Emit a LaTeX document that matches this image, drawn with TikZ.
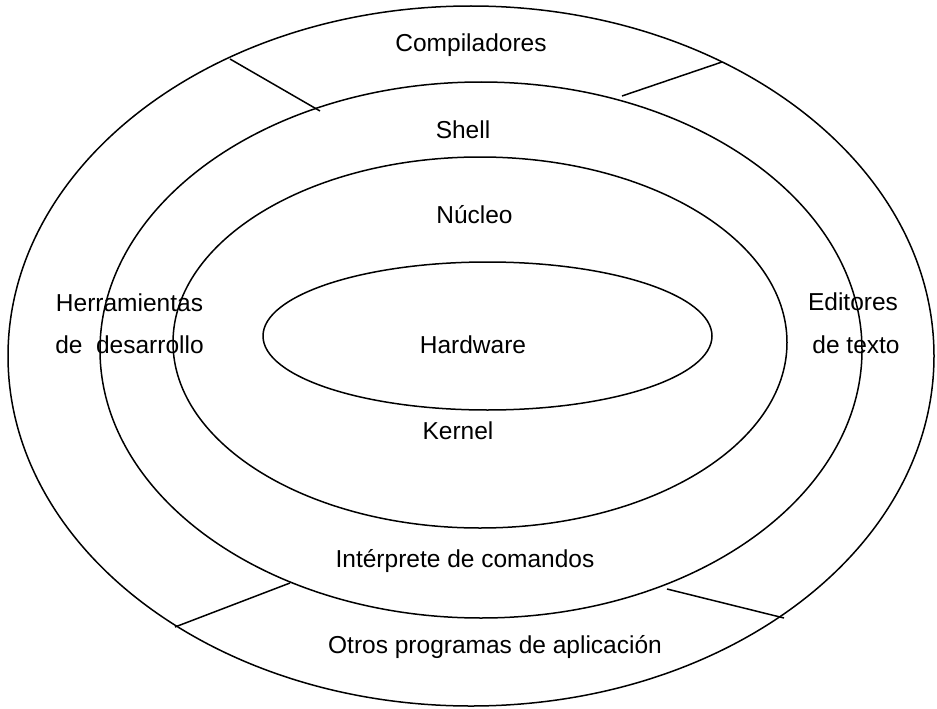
\documentclass[tikz,border=0pt]{standalone}
\usepackage{fontspec}
\setmainfont{Liberation Sans}
\begin{document}
\begin{tikzpicture}[x=1pt,y=-1pt,
  ring/.style={draw=black,line width=1.5pt},
  divider/.style={draw=black,line width=1.5pt},
  lbl/.style={anchor=base,inner sep=0pt,font=\fontsize{24.5}{29}\selectfont}]
\useasboundingbox (0,0) rectangle (937,709);
% centres of the rings
\coordinate (cOuter) at (471,356);
\coordinate (cShell) at (481,350);
\coordinate (cCore)  at (480,342.5);
\coordinate (cHw)    at (487.5,336);
\draw[ring] (cOuter) ellipse [x radius=463, y radius=350];
\draw[ring] (cShell) ellipse [x radius=381, y radius=268];
\draw[ring] (cCore)  ellipse [x radius=307, y radius=185.5];
\draw[ring] (cHw)    ellipse [x radius=224.5, y radius=74];
% divider end points
\coordinate (d1a) at (230,59);   \coordinate (d1b) at (320,111);
\coordinate (d2a) at (722,62);   \coordinate (d2b) at (622,96);
\coordinate (d3a) at (175,627);  \coordinate (d3b) at (290,583);
\coordinate (d4a) at (784,618);  \coordinate (d4b) at (667,589);
\draw[divider] (d1a) -- (d1b);
\draw[divider] (d2a) -- (d2b);
\draw[divider] (d3a) -- (d3b);
\draw[divider] (d4a) -- (d4b);
% labels
\node[lbl] (comp)  at (471,52)  {Compiladores};
\node[lbl] (shell) at (463,138) {Shell};
\node[lbl] (nuc)   at (474.5,223) {Núcleo};
\node[lbl] (hw)    at (473,353) {Hardware};
\node[lbl] (ker)   at (458,439) {Kernel};
\node[lbl] (int)   at (465,567) {Intérprete de comandos};
\node[lbl] (otros) at (495,653) {Otros programas de aplicación};
\node[lbl] (herr1) at (129.5,311) {Herramientas};
\node[lbl] (herr2) at (129.5,353) {de\ \ desarrollo};
\node[lbl] (ed1)   at (853,310) {Editores};
\node[lbl] (ed2)   at (856,353) {de texto};
\end{tikzpicture}
\end{document}
